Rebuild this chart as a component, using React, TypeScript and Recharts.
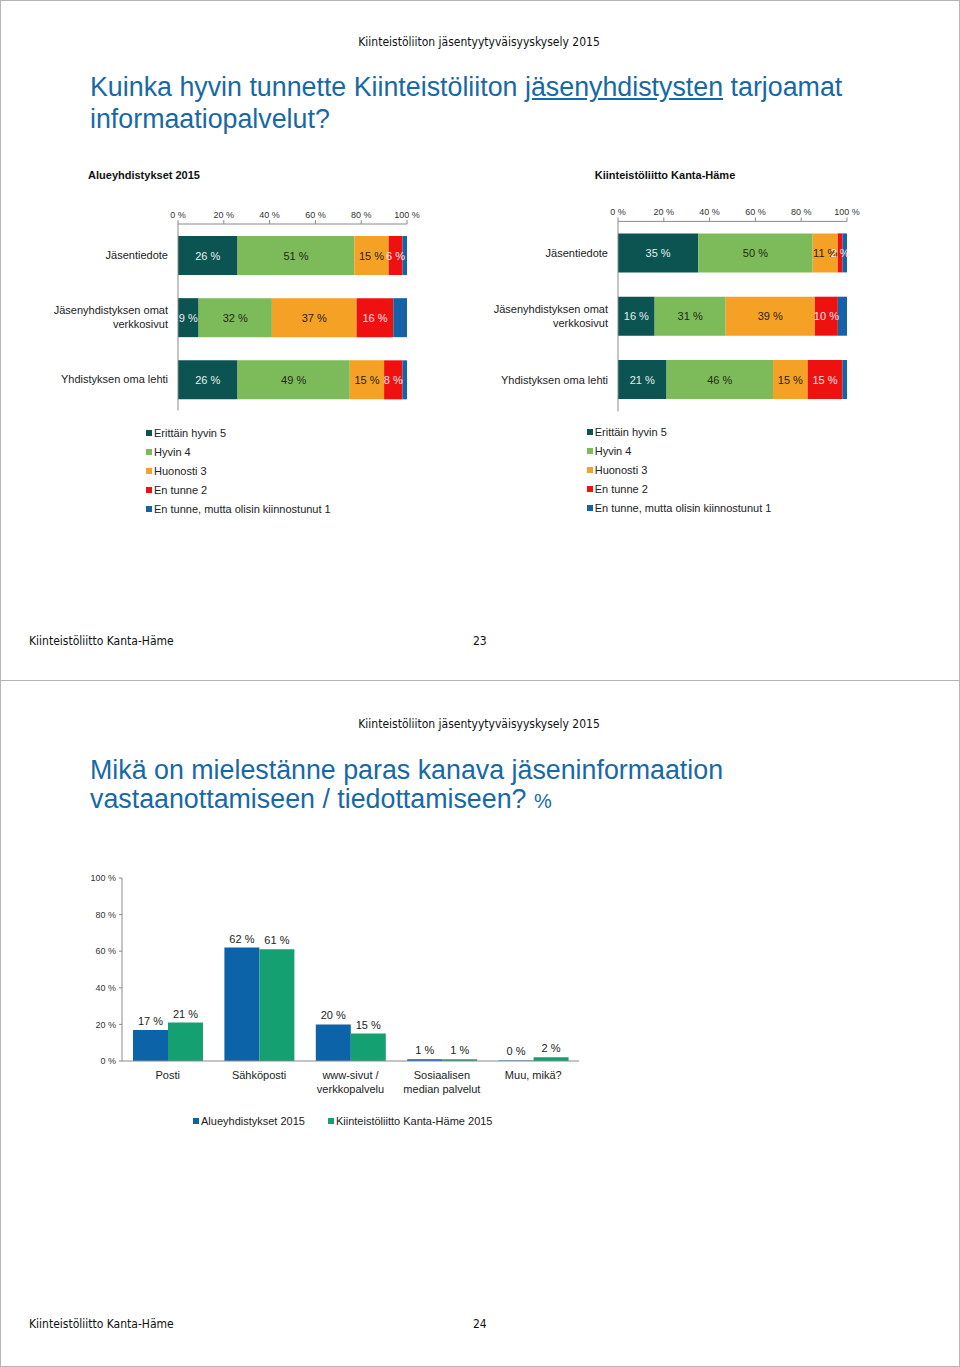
import React from 'react'
import { BarChart, Bar, XAxis, YAxis, LabelList, Legend } from 'recharts'

// top slide: stacked bars, 100 %
const rowNames = ['Jäsentiedote', 'Jäsenyhdistyksen omat\nverkkosivut', 'Yhdistyksen oma lehti']
const levelNames = ['Erittäin hyvin 5', 'Hyvin 4', 'Huonosti 3', 'En tunne 2', 'En tunne, mutta olisin kiinnostunut 1']

const alue5 = [26, 9, 26]
const alue4 = [51, 32, 49]
const alue3 = [15, 37, 15]
const alue2 = [6, 16, 8]
const alue1 = [2, 6, 2]

const kanta5 = [35, 16, 21]
const kanta4 = [50, 31, 46]
const kanta3 = [11, 39, 15]
const kanta2 = [2, 10, 15]
const kanta1 = [2, 4, 2]

const pctTicks = [0, 0.2, 0.4, 0.6, 0.8, 1]

// bottom slide: grouped bars
const channels = ['Posti', 'Sähköposti', 'www-sivut /\nverkkopalvelu', 'Sosiaalisen\nmedian palvelut', 'Muu, mikä?']
const alue2015 = [17, 62, 20, 1, 0.3]
const kanta2015 = [21, 61, 15, 1, 2]
const yTicks = [0, 20, 40, 60, 80, 100]
const seriesNames = ['Alueyhdistykset 2015', 'Kiinteistöliitto Kanta-Häme 2015']

const levelColors = ['#0B5451', '#7DBA5A', '#F4A126', '#EF1010', '#1462A8']
const labelColors = ['#e8eeee', '#1d2a14', '#2a2210', '#fde5e5', 'none']
const blue = '#0C63A7'
const green = '#14A071'

const FONT = '"Liberation Sans", Arial, sans-serif'
const NARROW = '"Liberation Sans Narrow", "DejaVu Sans Condensed", sans-serif'
const TITLE_BLUE = '#1769A6'

const buildRows = (s: number[][]) =>
  rowNames.map((name, i) => ({ name, v5: s[0][i], v4: s[1][i], v3: s[2][i], v2: s[3][i], v1: s[4][i] }))

const alueRows = buildRows([alue5, alue4, alue3, alue2, alue1])
const kantaRows = buildRows([kanta5, kanta4, kanta3, kanta2, kanta1])

const channelRows = channels.map((name, i) => ({ name, alue: alue2015[i], kanta: kanta2015[i] }))

const pct = (v: any) => `${Math.round(Number(v))} %`

const RowTick = (props: any) => {
  const { x, y, payload } = props
  const lines = String(payload.value).split('\n')
  return (
    <text x={x} y={y} textAnchor="end" fontSize={11} fill="#222" fontFamily={FONT}>
      {lines.map((l, i) => (
        <tspan key={i} x={x} dy={i === 0 ? (lines.length === 1 ? 4 : -3) : 13.5}>
          {l}
        </tspan>
      ))}
    </text>
  )
}

const ChannelTick = (props: any) => {
  const { x, y, payload } = props
  const lines = String(payload.value).split('\n')
  return (
    <text x={x} y={y} textAnchor="middle" fontSize={11} fill="#222" fontFamily={FONT}>
      {lines.map((l, i) => (
        <tspan key={i} x={x} dy={i === 0 ? 10 : 14}>
          {l}
        </tspan>
      ))}
    </text>
  )
}

// label in the middle of a segment, no wrapping
const centerLabel = (color: string) => (props: any) => {
  const { x, y, width, height, value } = props
  return (
    <text x={x + width / 2} y={y + height / 2 + 4} textAnchor="middle" fontSize={11} fill={color} fontFamily={FONT}>
      {pct(value)}
    </text>
  )
}

const topLabel = (props: any) => {
  const { x, y, width, value } = props
  return (
    <text x={x + width / 2} y={y - 5} textAnchor="middle" fontSize={11} fill="#222" fontFamily={FONT}>
      {pct(value)}
    </text>
  )
}

const byOrder = (names: string[]) => (payload: any[]) =>
  [...(payload || [])].sort((a, b) => names.indexOf(a.value) - names.indexOf(b.value))

const VerticalLegend = (props: any) => (
  <div style={{ fontFamily: FONT, fontSize: 11, color: '#222' }}>
    {byOrder(levelNames)(props.payload).map((p: any) => (
      <div key={p.value} style={{ height: 19, display: 'flex', alignItems: 'center', whiteSpace: 'nowrap' }}>
        <span style={{ width: 6, height: 6, background: p.color, marginRight: 2, display: 'inline-block' }} />
        {p.value}
      </div>
    ))}
  </div>
)

const RowLegend = (props: any) => (
  <div style={{ fontFamily: FONT, fontSize: 11, color: '#222', display: 'flex', alignItems: 'center', height: 20 }}>
    {byOrder(seriesNames)(props.payload).map((p: any, i: number) => (
      <span key={p.value} style={{ display: 'flex', alignItems: 'center', marginRight: i === 0 ? 23 : 0, whiteSpace: 'nowrap' }}>
        <span style={{ width: 6, height: 6, background: p.color, marginRight: 2, display: 'inline-block' }} />
        {p.value}
      </span>
    ))}
  </div>
)

const StackChart = ({ data, marginTop, marginBottom, legendTop, legendLeft }: any) => {
  const keys = ['v5', 'v4', 'v3', 'v2', 'v1']
  return (
    <BarChart
      width={420}
      height={340}
      data={data}
      layout="vertical"
      stackOffset="expand"
      margin={{ top: marginTop, right: 13, bottom: marginBottom, left: 8 }}
    >
      <XAxis
        type="number"
        orientation="top"
        domain={[0, 1]}
        ticks={pctTicks}
        tickFormatter={(v: number) => `${Math.round(v * 100)} %`}
        height={20}
        tickSize={4}
        tickMargin={2}
        tick={{ fontSize: 9, fill: '#333', fontFamily: FONT }}
        stroke="#8a8a8a"
      />
      <YAxis
        type="category"
        dataKey="name"
        width={170}
        tickLine={false}
        tickSize={6}
        tickMargin={4}
        tick={<RowTick />}
        stroke="#8a8a8a"
        interval={0}
      />
      <Legend content={<VerticalLegend />} height={95} wrapperStyle={{ top: legendTop, left: legendLeft, width: 300 }} />
      {keys.map((k, i) => (
        <Bar key={k} dataKey={k} name={levelNames[i]} stackId="a" fill={levelColors[i]} barSize={39} isAnimationActive={false}>
          {i < 4 && <LabelList dataKey={k} content={centerLabel(labelColors[i])} />}
        </Bar>
      ))}
    </BarChart>
  )
}

const Header = ({ top }: { top: number }) => (
  <div style={{ position: 'absolute', top, left: 0, width: 958, textAlign: 'center', fontFamily: NARROW, fontSize: 12, lineHeight: '14px', color: '#111' }}>
    Kiinteistöliiton jäsentyytyväisyyskysely 2015
  </div>
)

const Footer = ({ top, page }: { top: number; page: string }) => (
  <>
    <div style={{ position: 'absolute', top, left: 29, fontFamily: NARROW, fontSize: 12, lineHeight: '14px', color: '#111' }}>
      Kiinteistöliitto Kanta-Häme
    </div>
    <div style={{ position: 'absolute', top, left: 473, fontFamily: NARROW, fontSize: 12, lineHeight: '14px', color: '#111' }}>
      {page}
    </div>
  </>
)

export default function App() {
  return (
    <div style={{ position: 'absolute', top: 0, left: 0, width: 960, height: 1367, background: '#fff', fontFamily: FONT, overflow: 'hidden' }}>
      <div style={{ position: 'absolute', top: 0, left: 0, width: 960, height: 681, border: '1px solid #b5b5b5', boxSizing: 'border-box' }} />
      <div style={{ position: 'absolute', top: 680, left: 0, width: 960, height: 687, border: '1px solid #b5b5b5', boxSizing: 'border-box' }} />

      {/* slide 23 */}
      <Header top={35} />
      <div style={{ position: 'absolute', top: 71, left: 90, fontSize: 26.8, lineHeight: '32px', color: TITLE_BLUE, whiteSpace: 'nowrap' }}>
        Kuinka hyvin tunnette Kiinteistöliiton <u>jäsenyhdistysten</u> tarjoamat
        <br />
        informaatiopalvelut?
      </div>

      <div style={{ position: 'absolute', top: 169, left: 44, width: 200, textAlign: 'center', fontSize: 11, fontWeight: 'bold', color: '#111' }}>
        Alueyhdistykset 2015
      </div>
      <div style={{ position: 'absolute', top: 169, left: 565, width: 200, textAlign: 'center', fontSize: 11, fontWeight: 'bold', color: '#111' }}>
        Kiinteistöliitto Kanta-Häme
      </div>

      <div style={{ position: 'absolute', top: 195, left: 0 }}>
        <StackChart data={alueRows} marginTop={9} marginBottom={29.5} legendTop={228.5} legendLeft={146} />
      </div>
      <div style={{ position: 'absolute', top: 195, left: 440 }}>
        <StackChart data={kantaRows} marginTop={6.4} marginBottom={28.7} legendTop={227.5} legendLeft={146.7} />
      </div>

      <Footer top={634} page="23" />

      {/* slide 24 */}
      <Header top={717} />
      <div style={{ position: 'absolute', top: 756, left: 90, fontSize: 26.8, lineHeight: '29px', color: TITLE_BLUE, whiteSpace: 'nowrap' }}>
        Mikä on mielestänne paras kanava jäseninformaation
        <br />
        vastaanottamiseen / tiedottamiseen? <span style={{ fontSize: 20 }}>%</span>
      </div>

      <div style={{ position: 'absolute', top: 860, left: 0 }}>
        <BarChart
          width={620}
          height={280}
          data={channelRows}
          barCategoryGap={11}
          barGap={0}
          margin={{ top: 18, right: 41, bottom: 19, left: 0 }}
        >
          <XAxis dataKey="name" tickLine={false} height={40} tick={<ChannelTick />} interval={0} stroke="#8a8a8a" />
          <YAxis
            domain={[0, 100]}
            ticks={yTicks}
            tickFormatter={(v: number) => `${v} %`}
            width={122}
            tickSize={3}
            tickMargin={3}
            tick={{ fontSize: 9, fill: '#333', fontFamily: FONT }}
            stroke="#8a8a8a"
          />
          <Legend content={<RowLegend />} height={20} wrapperStyle={{ top: 250.7, left: 193, width: 320 }} />
          <Bar dataKey="alue" name={seriesNames[0]} fill={blue} isAnimationActive={false}>
            <LabelList dataKey="alue" content={topLabel} />
          </Bar>
          <Bar dataKey="kanta" name={seriesNames[1]} fill={green} isAnimationActive={false}>
            <LabelList dataKey="kanta" content={topLabel} />
          </Bar>
        </BarChart>
      </div>

      <Footer top={1317} page="24" />
    </div>
  )
}
